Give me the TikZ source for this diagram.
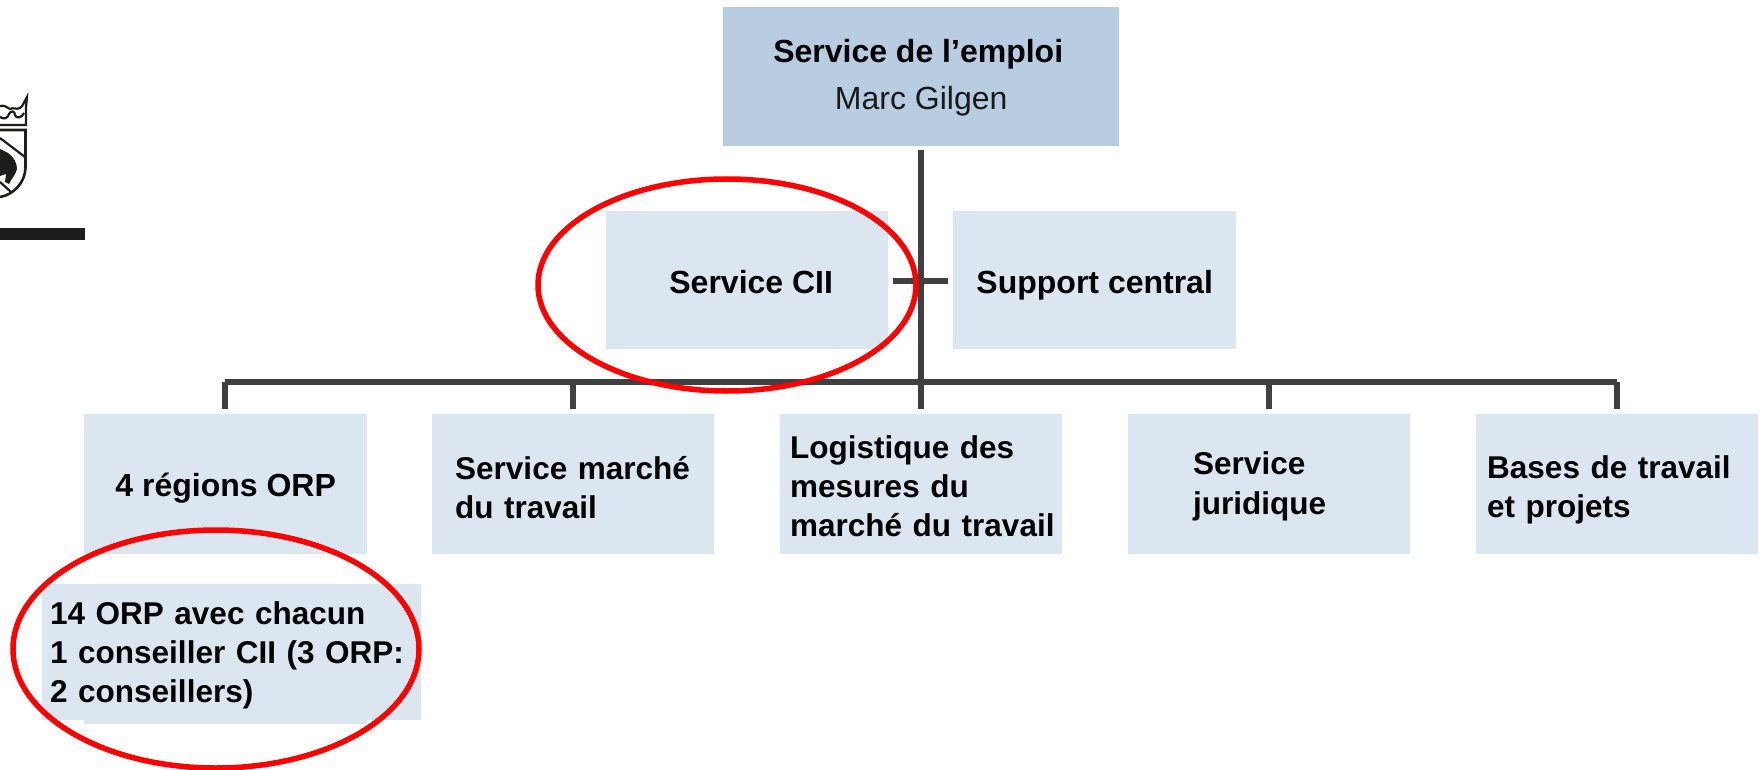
\documentclass[tikz,border=0pt]{standalone}
\usepackage{fontspec}
\usetikzlibrary{shapes.geometric}
\setmainfont{Liberation Sans}
\definecolor{topfill}{HTML}{B8CDE1}
\definecolor{lightfill}{HTML}{DCE6F1}
\definecolor{linegrey}{HTML}{404040}
\definecolor{logoblack}{HTML}{1D1D1B}
\newcommand{\dn}[1]{\rule{0pt}{\dimexpr 24pt+2\dimexpr #1\relax\relax}}
\tikzset{
  boxbase/.style={fill=#1,draw=none,anchor=north west,font=\fontsize{32}{39}\selectfont\bfseries},
  cbox/.style n args={3}{boxbase=#1,minimum width=#2pt,minimum height=#3pt,inner sep=0pt,align=center},
  lbox/.style n args={3}{boxbase=lightfill,font=\fontsize{31.5}{39}\selectfont\bfseries,minimum width=#1pt,minimum height=#2pt,inner xsep=#3pt,inner ysep=0pt,text width=#1pt-2*#3pt,align=left},
  conn/.style={draw=linegrey,line width=5.6pt},
  ticklink/.style={draw=linegrey,line width=5.5pt},
  redring/.style={draw=red,line width=5.5pt,fill=none,ellipse},
  logoline/.style={draw=logoblack,line width=2.2pt},
}
\begin{document}
\begin{tikzpicture}[x=1pt,y=-1pt]
\useasboundingbox (0,0) rectangle (1760,770);
% logo
\fill[logoblack] (0,228) rectangle (85,240);
\draw[logoline] (0,125) -- (26,125) -- (26,110) .. controls (26,104) and (27,100) .. (27,97)
  .. controls (24,102) and (23,106) .. (20,108) .. controls (16,110) and (13,107) .. (10,109)
  .. controls (7,107) and (4,105) .. (0,106);
\draw[logoline] (0,117) .. controls (4,120) and (8,118) .. (9,114) .. controls (11,110) and (15,111) .. (15,115)
  .. controls (16,119) and (22,118) .. (24,113);
\draw[draw=logoblack,line width=2.6pt] (0,130) -- (25.5,130) -- (25.5,168) .. controls (25,183) and (13,195) .. (0,197);
\draw[logoline] (0,138) -- (25,157);
\draw[logoline] (0,182) -- (11,192);
\fill[logoblack] (0,149) -- (8,153) .. controls (14,157) and (17,163) .. (17,169) .. controls (16,174) and (12,178) .. (9,184) -- (5,182) -- (6,174) -- (0,176) -- cycle;
% boxes
\node[cbox={topfill}{396}{139}] (top) at (723,7) {\hspace*{-6pt}\dn{1pt}Service de l’emploi\\[8pt]{\mdseries\color{black!90}Marc Gilgen}};
\node[cbox={lightfill}{282}{138},text height=30pt,text depth=4pt] (cii) at (606,211) {\hspace*{8pt}Service CII};
\node[cbox={lightfill}{283}{138},text height=30pt,text depth=4pt] (support) at (953,211) {Support central};
\node[cbox={lightfill}{283}{140},text height=29pt,text depth=5pt] (regions) at (84,414) {4 régions ORP};
\node[lbox={282}{140}{23}] (marche) at (432,414) {\dn{3pt}\mbox{Service marché}\\du travail};
\node[lbox={282}{140}{10}] (logistique) at (780,414) {\dn{1pt}Logistique des\\mesures du\\\mbox{marché du travail}};
\node[lbox={282}{140}{65}] (juridique) at (1128,414) {\dn{2pt}Service\\[1pt]juridique};
\node[lbox={282}{140}{11}] (bases) at (1476,414) {\dn{5pt}Bases de travail\\et projets};
\node[cbox={lightfill}{283}{134}] (under) at (84,590) {};
\node[lbox={379}{136}{8}] (orp) at (42,584) {\dn{3pt}14 ORP avec chacun\\1 conseiller CII (3 ORP:\\2 conseillers)};
% connectors
\coordinate (bus) at (921,382);
\coordinate (busl) at (225,382);
\coordinate (busr) at (1617,382);
\coordinate (tl) at (893,281);
\coordinate (tr) at (948,281);
\draw[conn] (921,150) -- (bus);
\draw[conn] (busl) -- (busr);
\draw[ticklink] (tl) -- (tr);
\foreach \n/\x in {a/225,b/573,c/921,d/1269,e/1617}{
  \coordinate (end\n) at (\x,409);
  \draw[ticklink] (\x,382) -- (end\n);
}
% red rings
\node[redring,minimum width=378pt,minimum height=212pt,inner sep=0pt] (ringa) at (727,285) {};
\node[redring,minimum width=406pt,minimum height=238pt,inner sep=0pt] (ringb) at (216,649) {};
\end{tikzpicture}
\end{document}
